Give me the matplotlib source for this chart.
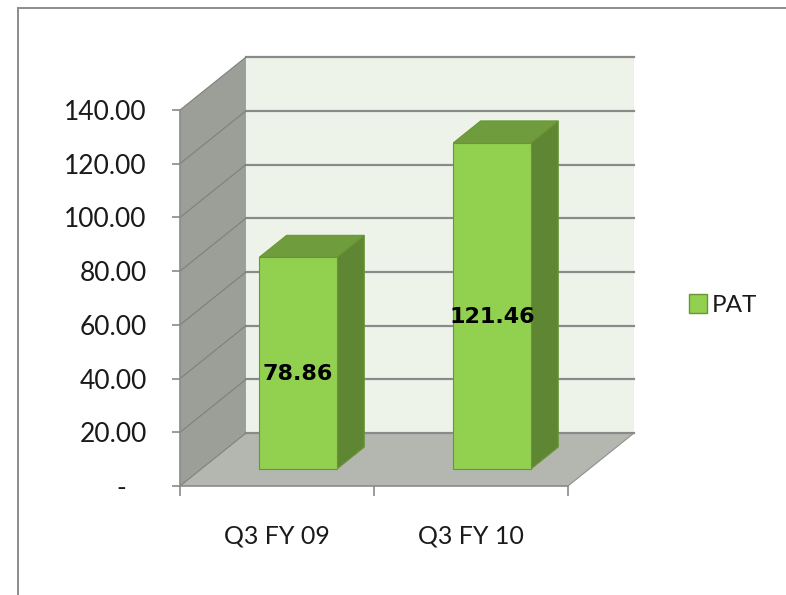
import matplotlib.pyplot as plt
from matplotlib.patches import Polygon, Rectangle, Patch

categories = ["Q3 FY 09", "Q3 FY 10"]
pat_values = [78.86, 121.46]
series_name = "PAT"
y_ticks = [0, 20, 40, 60, 80, 100, 120, 140]

# depth of the 3d box in data units (x: category slots, y: value)
DX, DY = 0.34, 19.7
F1, F2 = 0.32, 0.735   # front / back of the bars as part of the depth
BAR_W = 0.4

WALL = "#eef3ea"
SIDE = "#9c9e98"
FLOOR = "#b4b6b0"
GRID = "#8a8a8a"
BAR_FRONT = "#92d050"
BAR_TOP = "#6f9c3c"
BAR_SIDE = "#5f8733"
BAR_EDGE = "#6a9535"

plt.rcParams["font.family"] = ["Lato", "DejaVu Sans"]

fig = plt.figure(figsize=(7.86, 5.95), dpi=100)
ax = fig.add_axes([0.229, 0.1832, 0.4936, 0.6319])
x0, x1 = -0.5, len(categories) - 0.5
y0, y1 = 0, y_ticks[-1]
ax.set_xlim(x0, x1)
ax.set_ylim(y0, y1)
ax.patch.set_visible(False)

# back wall, side wall and floor
ax.add_patch(Polygon([(x0 + DX, y0 + DY), (x1 + DX, y0 + DY),
                      (x1 + DX, y1 + DY), (x0 + DX, y1 + DY)],
                     facecolor=WALL, edgecolor="none", clip_on=False, zorder=0.3))
ax.add_patch(Polygon([(x0, y0), (x0 + DX, y0 + DY), (x0 + DX, y1 + DY), (x0, y1)],
                     facecolor=SIDE, edgecolor="none", clip_on=False, zorder=0.3))
ax.add_patch(Polygon([(x0, y0), (x1, y0), (x1 + DX, y0 + DY), (x0 + DX, y0 + DY)],
                     facecolor=FLOOR, edgecolor="none", clip_on=False, zorder=0.3))

# gridlines on the back wall and the side wall
for v in y_ticks:
    ax.plot([x0 + DX, x1 + DX], [v + DY, v + DY], color=GRID, lw=1.6,
            clip_on=False, zorder=0.6)
    ax.plot([x0, x0 + DX], [v, v + DY], color="#7e807a", lw=0.8,
            clip_on=False, zorder=0.6)
ax.plot([x1, x1 + DX], [y0, y0 + DY], color="#8e908a", lw=0.8, clip_on=False, zorder=0.6)

# 3d bars: right side, top, then front face
for i, v in enumerate(pat_values):
    l, r = i - BAR_W / 2, i + BAR_W / 2
    ax.add_patch(Polygon([(r + F1 * DX, F1 * DY), (r + F2 * DX, F2 * DY),
                          (r + F2 * DX, v + F2 * DY), (r + F1 * DX, v + F1 * DY)],
                         facecolor=BAR_SIDE, edgecolor=BAR_EDGE, lw=0.8,
                         clip_on=False, zorder=2))
    ax.add_patch(Polygon([(l + F1 * DX, v + F1 * DY), (r + F1 * DX, v + F1 * DY),
                          (r + F2 * DX, v + F2 * DY), (l + F2 * DX, v + F2 * DY)],
                         facecolor=BAR_TOP, edgecolor=BAR_EDGE, lw=0.8,
                         clip_on=False, zorder=2))
bars = ax.bar([i + F1 * DX for i in range(len(categories))], pat_values,
              bottom=F1 * DY, width=BAR_W, color=BAR_FRONT,
              edgecolor=BAR_EDGE, lw=0.8, zorder=2.1)

# value labels
for i, v in enumerate(pat_values):
    ax.text(i + F1 * DX, F1 * DY + v / 2 - 4, f"{v:.2f}", ha="center", va="center",
            fontsize=16, fontweight="bold", family="DejaVu Sans", color="black",
            zorder=3)

# axes
for s in ["top", "right"]:
    ax.spines[s].set_visible(False)
for s in ["left", "bottom"]:
    ax.spines[s].set_color("#8a8a8a")
    ax.spines[s].set_linewidth(1.2)

ax.set_yticks(y_ticks)
ax.set_yticklabels(["-   " if v == 0 else f"{v:.2f}" for v in y_ticks])
ax.tick_params(axis="y", length=6, width=1.2, color="#8a8a8a", pad=18,
               labelsize=19, labelcolor="#1a1a1a")

ax.set_xticks([x0 + k for k in range(len(categories) + 1)])
ax.set_xticklabels([])
ax.set_xticks(range(len(categories)), minor=True)
ax.set_xticklabels(categories, minor=True)
ax.tick_params(axis="x", which="major", length=7, width=1.2, color="#8a8a8a")
ax.tick_params(axis="x", which="minor", length=0, pad=28, labelsize=18,
               labelcolor="#1a1a1a")

fig.legend(handles=[Patch(facecolor=BAR_FRONT, edgecolor=BAR_EDGE, label=series_name)],
           loc="center left", bbox_to_anchor=(689 / 786, 1 - 305 / 595),
           frameon=False, fontsize=17.5, handlelength=0.75, handleheight=0.85,
           handletextpad=0.2, borderaxespad=0, borderpad=0, labelcolor="#1a1a1a")

# chart area border
fig.add_artist(Rectangle((18 / 786, -0.1), 1.2, 1.1 - 8 / 595, transform=fig.transFigure,
                         fill=False, edgecolor="#8c8c8c", lw=1.4))

fig.savefig("out.png", dpi=100)
